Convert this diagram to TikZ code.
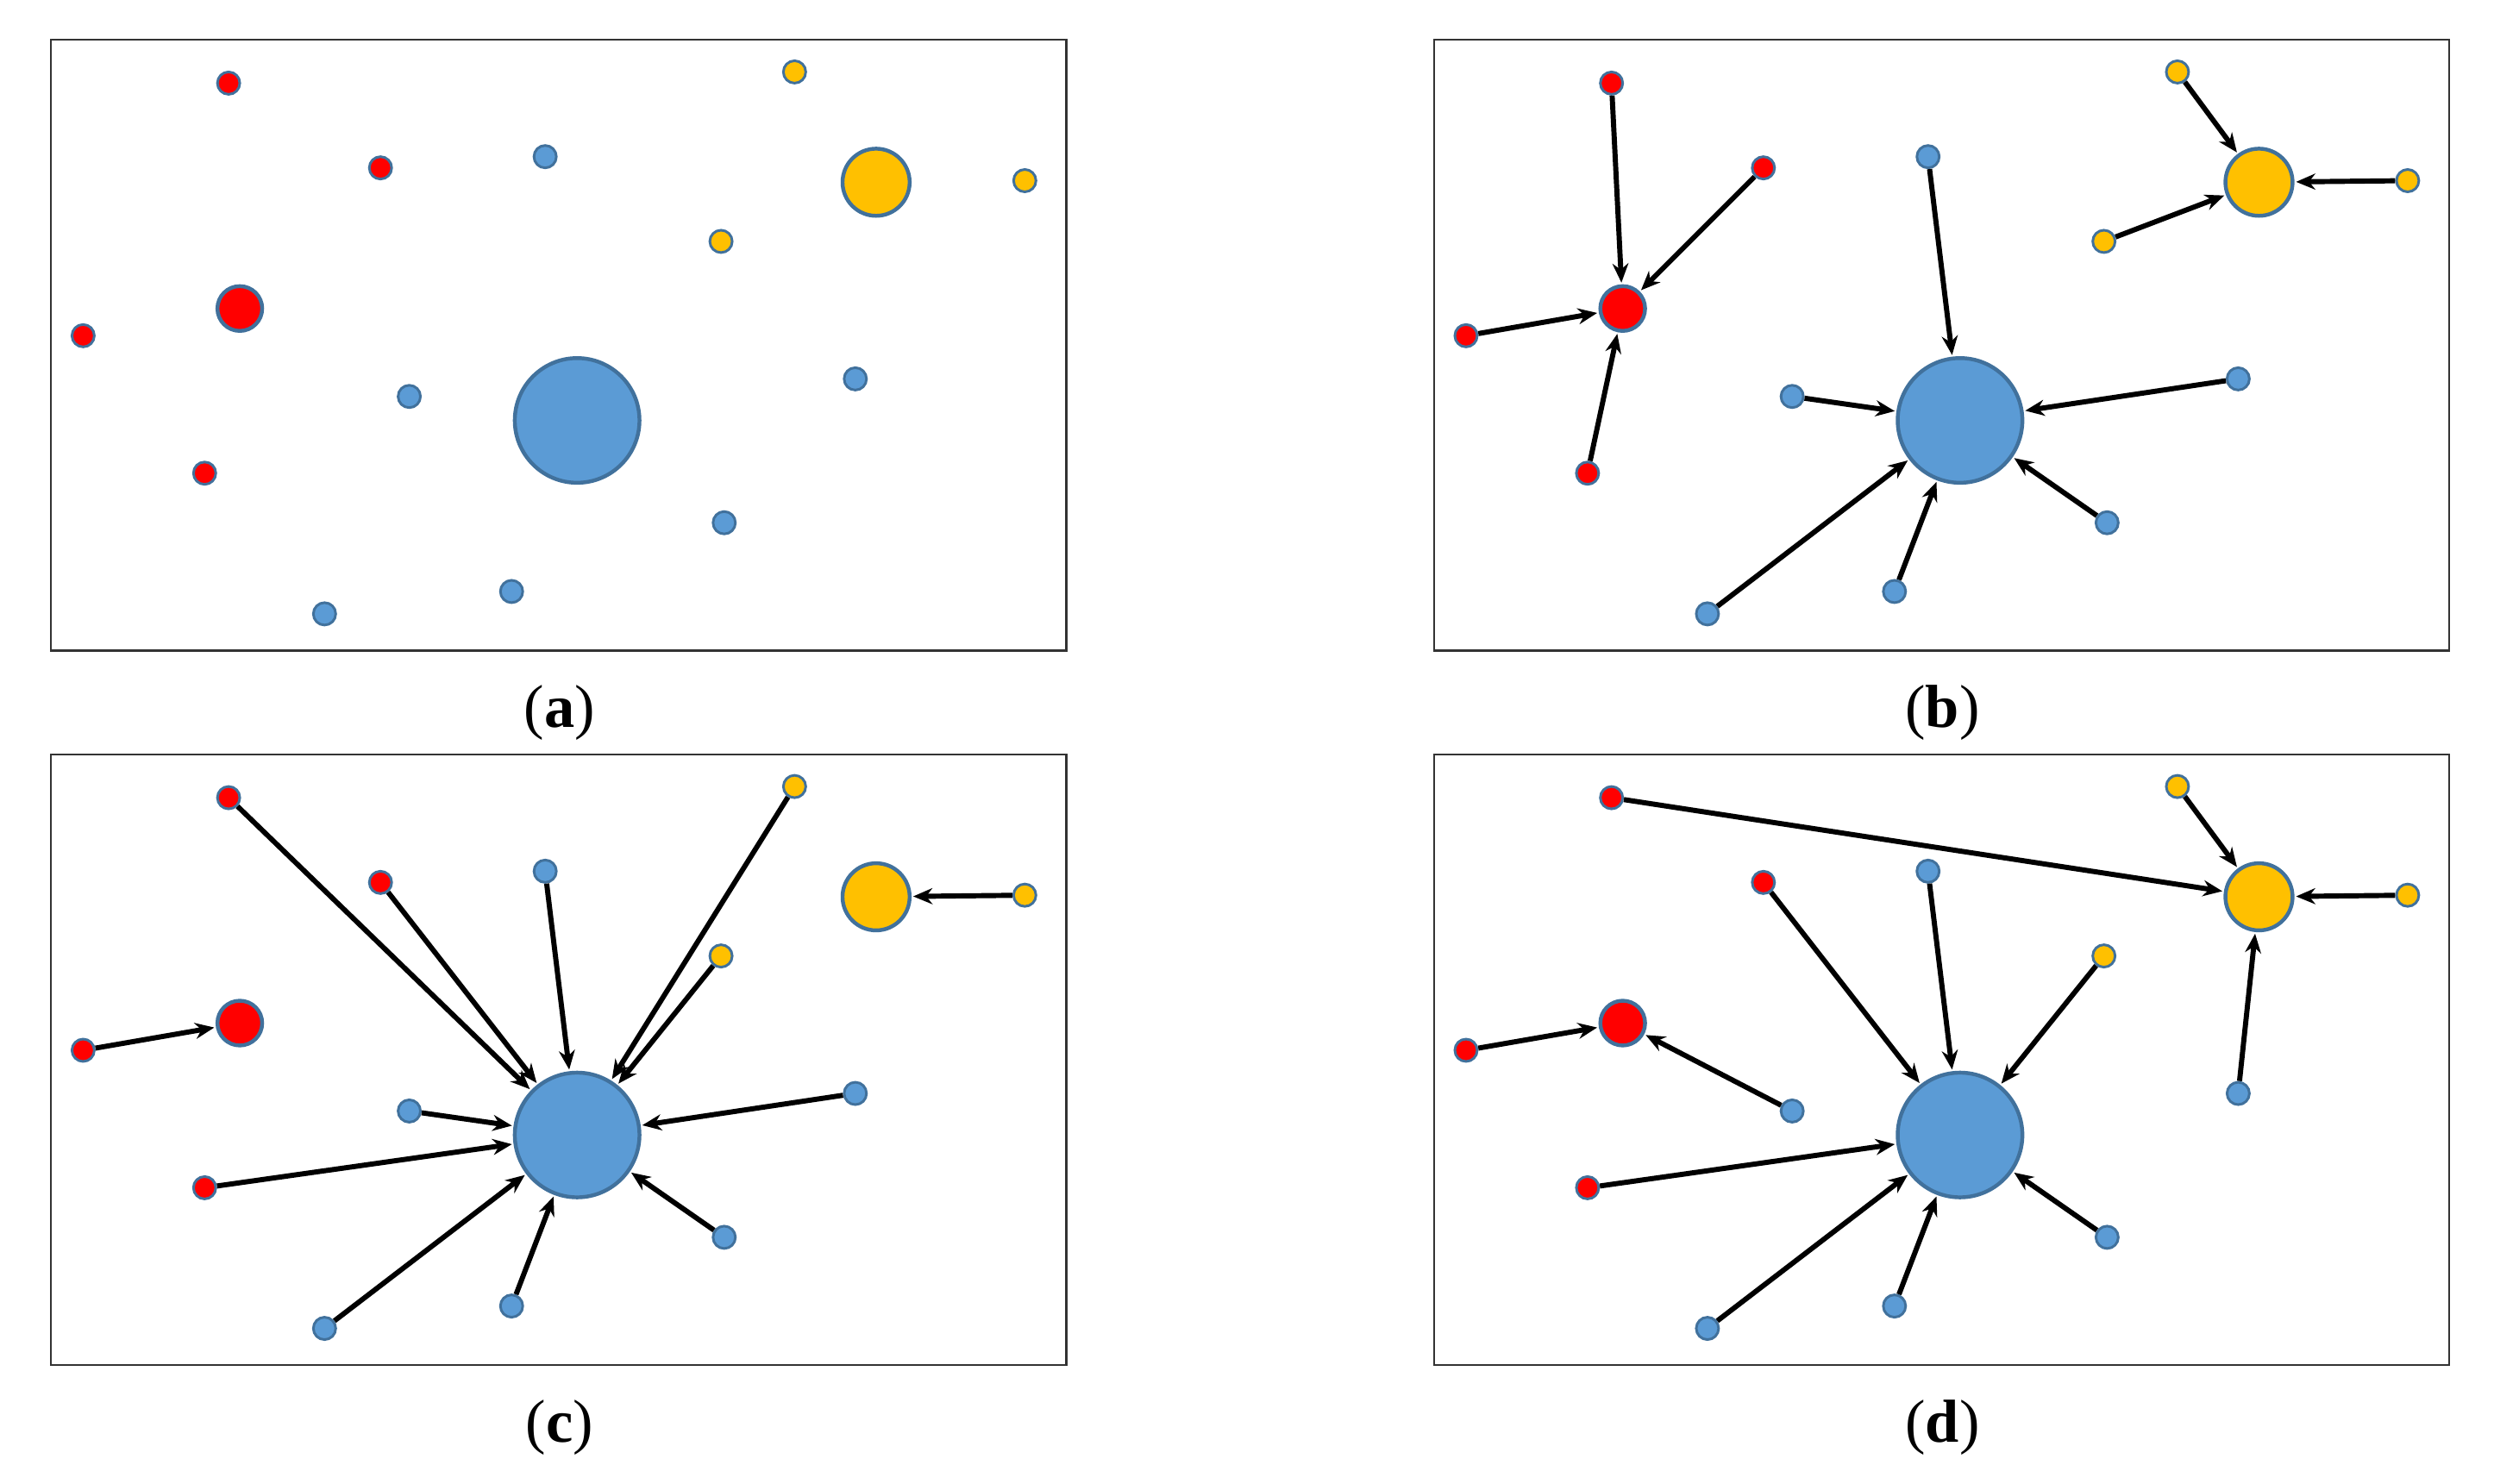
\documentclass[tikz,border=0pt]{standalone}
\usepackage{fontspec}
\setmainfont{Liberation Serif}
\usetikzlibrary{arrows.meta}
\definecolor{cr}{HTML}{FF0000}
\definecolor{cb}{HTML}{5B9BD5}
\definecolor{cy}{HTML}{FFC000}
\definecolor{co}{HTML}{41719C}
\tikzset{
 nd/.style={circle,inner sep=0pt,draw=co,line width=0.8pt},
 sr/.style={nd,fill=cr,minimum size=7pt},
 sb/.style={nd,fill=cb,minimum size=7pt},
 sy/.style={nd,fill=cy,minimum size=7pt},
 br/.style={nd,fill=cr,minimum size=14pt,line width=1.2pt},
 bb/.style={nd,fill=cb,minimum size=39pt,line width=1.2pt},
 by/.style={nd,fill=cy,minimum size=21pt,line width=1.2pt},
 ar/.style={-{Stealth[length=6pt,width=5pt]},line width=1.6pt,shorten >=0.5pt},
 frame/.style={draw=black!80,line width=0.6pt},
 lab/.style={font=\fontsize{19}{22}\selectfont}
}
\newcommand\mynodes[1]{%
 \draw[frame] (32,25) rectangle (667,407);
 \node[sr] (#1r1) at (143,52) {};
 \node[sr] (#1r2) at (238,105) {};
 \node[sr] (#1r3) at (52,210) {};
 \node[sr] (#1r4) at (128,296) {};
 \node[br] (#1R) at (150,193) {};
 \node[sb] (#1b1) at (341,98) {};
 \node[sb] (#1b2) at (256,248) {};
 \node[sb] (#1b3) at (535,237) {};
 \node[sb] (#1b4) at (453,327) {};
 \node[sb] (#1b5) at (320,370) {};
 \node[sb] (#1b6) at (203,384) {};
 \node[bb] (#1B) at (361,263) {};
 \node[sy] (#1y1) at (497,45) {};
 \node[sy] (#1y2) at (641,113) {};
 \node[sy] (#1y3) at (451,151) {};
 \node[by] (#1Y) at (548,114) {};
}
\begin{document}
\begin{tikzpicture}[x=0.5pt,y=-0.5pt]
\useasboundingbox (0,0) rectangle (1560,928);
\begin{scope}
 \mynodes{a}
 \node[lab] (la) at (350,446) {(\textbf{a})};
\end{scope}
\begin{scope}[shift={(865,0)}]
 \mynodes{b}
 \node[lab] (lb) at (350,446) {(\textbf{b})};
 \foreach \n in {r1,r2,r3,r4} \draw[ar] (b\n) -- (bR);
 \foreach \n in {b1,b2,b3,b4,b5,b6} \draw[ar] (b\n) -- (bB);
 \foreach \n in {y1,y2,y3} \draw[ar] (b\n) -- (bY);
\end{scope}
\begin{scope}[shift={(0,447)}]
 \mynodes{c}
 \node[lab] (lc) at (350,446) {(\textbf{c})};
 \draw[ar] (cr3) -- (cR);
 \draw[ar] (cy2) -- (cY);
 \foreach \n in {r1,r2,r4,b1,b2,b3,b4,b5,b6,y1,y3} \draw[ar] (c\n) -- (cB);
\end{scope}
\begin{scope}[shift={(865,447)}]
 \mynodes{d}
 \node[lab] (ld) at (350,446) {(\textbf{d})};
 \foreach \n in {r3,b2} \draw[ar] (d\n) -- (dR);
 \foreach \n in {r1,b3,y1,y2} \draw[ar] (d\n) -- (dY);
 \foreach \n in {r2,r4,b1,b4,b5,b6,y3} \draw[ar] (d\n) -- (dB);
\end{scope}
\end{tikzpicture}
\end{document}
